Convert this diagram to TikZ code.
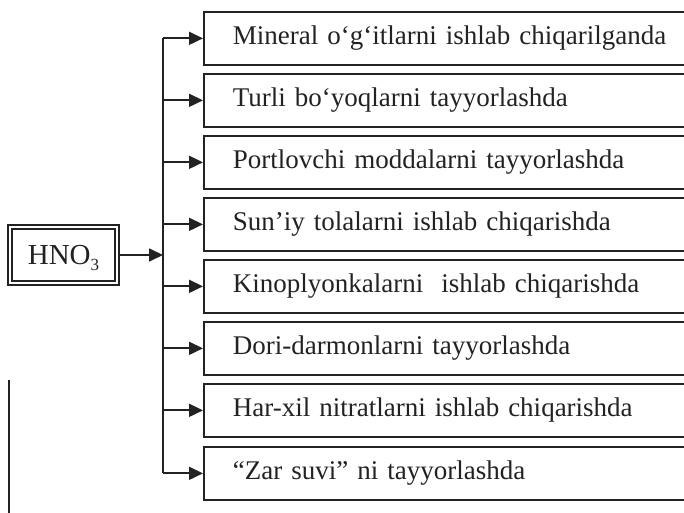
\documentclass[tikz,border=0pt]{standalone}
\usepackage{fontspec}
\setmainfont{Liberation Serif}
\usetikzlibrary{arrows.meta}
\definecolor{ink}{HTML}{222222}
\newcommand{\lowsub}[1]{\raisebox{-6pt}{\fontsize{17}{17}\selectfont #1}}
\tikzset{
  itembox/.style={draw=ink, line width=1.7pt, anchor=north west, minimum height=53pt,
    text width=491pt, inner xsep=29pt, inner ysep=0pt, align=left, text=ink,
    font=\fontsize{27}{30}\selectfont},
  arr/.style={draw=ink, line width=1.7pt, -{Triangle[length=14pt,width=13pt]}},
  busline/.style={draw=ink, line width=1.7pt},
}
\begin{document}
\begin{tikzpicture}[x=1pt,y=1pt]
\useasboundingbox (0,0) rectangle (684,513);
\clip (0,0) rectangle (684,513);
\node[itembox] (b1) at (203,502) {Mineral o‘g‘itlarni ishlab chiqarilganda};
\node[itembox] (b2) at (203,440) {Turli bo‘yoqlarni tayyorlashda};
\node[itembox] (b3) at (203,378) {Portlovchi moddalarni tayyorlashda};
\node[itembox] (b4) at (203,316) {Sun’iy tolalarni ishlab chiqarishda};
\node[itembox] (b5) at (203,254) {Kinoplyonkalarni\ \ ishlab chiqarishda};
\node[itembox] (b6) at (203,192) {Dori-darmonlarni tayyorlashda};
\node[itembox] (b7) at (203,130) {Har-xil nitratlarni ishlab chiqarishda};
\node[itembox] (b8) at (203,67) {“Zar suvi” ni tayyorlashda};
\node[draw=ink, line width=1.5pt, double=white, double distance=2.4pt,
  minimum width=107pt, minimum height=56pt, inner sep=0pt, text=ink,
  font=\fontsize{29}{32}\selectfont] (hno) at (63.5,258)
  {\raisebox{0pt}[\height][0pt]{HNO\lowsub{3}}};
\coordinate (bus) at (163,0);
\draw[busline] (bus |- b1.west) -- (bus |- b8.west);
\draw[arr] (hno.east) -- (bus |- hno.east);
\foreach \b in {b1,b2,b3,b4,b5,b6,b7,b8}{
  \draw[arr] (bus |- \b.west) -- (\b.west);
}
\coordinate (lt) at (9,133);
\coordinate (lb) at (9,0);
\draw[draw=ink, line width=2.2pt] (lt) -- (lb);
\end{tikzpicture}
\end{document}
